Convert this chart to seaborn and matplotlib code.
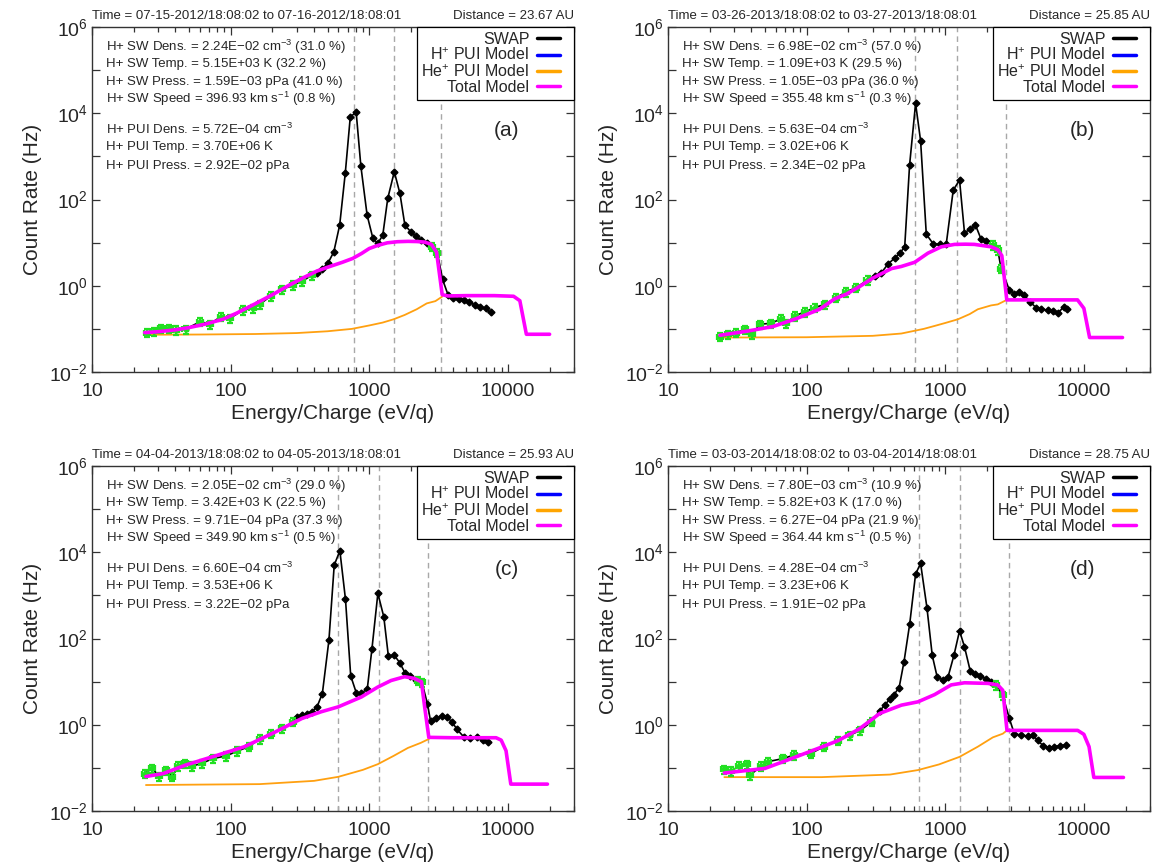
import matplotlib
matplotlib.use("Agg")
import numpy as np
import pandas as pd
import matplotlib.pyplot as plt
from matplotlib.lines import Line2D
from matplotlib.legend_handler import HandlerLine2D
from matplotlib.ticker import FixedLocator, FuncFormatter, NullLocator, LogLocator, NullFormatter
import seaborn as sns

# ---------------- Panel (a) ----------------
a_time = "Time = 07-15-2012/18:08:02 to 07-16-2012/18:08:01"
a_dist = "Distance = 23.67 AU"
a_sw = ["2.24E−02", "31.0", "5.15E+03", "32.2", "1.59E−03", "41.0", "396.93", "0.8"]
a_pui = ["5.72E−04", "3.70E+06", "2.92E−02"]
a_vlines = [770, 1510, 3320]
a_fit_E = [24.8, 28.0, 31.7, 35.9, 40.6, 47.3, 60.5, 70.6, 85, 99, 123, 144, 162, 195, 235, 282, 330, 385, 2850, 3100]
a_fit_C = [0.082, 0.087, 0.103, 0.103, 0.094, 0.098, 0.148, 0.128, 0.193, 0.176, 0.274, 0.30, 0.37, 0.58, 0.83, 1.03, 1.29, 1.75, 8.0, 5.8]
a_blk_E = [420, 460, 505, 555, 612, 672, 730, 805, 870, 965, 1063, 1153, 1252, 1360, 1516, 1665, 1807, 1995, 2166, 2352, 2594,
           3380, 3700, 4050, 4420, 4830, 5280, 5770, 6300, 6900, 7500]
a_blk_C = [2.0, 2.5, 3.4, 6.1, 25.5, 417, 8300, 10500, 596, 43.6, 12.5, 9.6, 14.9, 106, 440, 138, 25.5, 17.8, 14.1, 11.5, 10.0,
           1.4, 0.62, 0.52, 0.50, 0.47, 0.42, 0.36, 0.32, 0.30, 0.24]
a_tot_E = [24, 30, 40, 50, 65, 88, 110, 150, 200, 260, 330, 420, 520, 640, 760, 880, 1000, 1150, 1350, 1600, 1900, 2200, 2500,
           2800, 3060, 3360, 3700, 5000, 8000, 11000, 12200, 13600, 20000]
a_tot_C = [0.082, 0.086, 0.095, 0.107, 0.128, 0.167, 0.23, 0.38, 0.62, 1.0, 1.5, 2.2, 2.8, 3.5, 4.3, 5.6, 7.3, 8.6, 9.9, 10.5,
           10.7, 10.6, 10.3, 9.2, 6.0, 0.62, 0.58, 0.59, 0.59, 0.57, 0.45, 0.075, 0.075]
a_he_E = [24, 60, 150, 300, 500, 750, 1000, 1250, 1500, 1800, 2200, 2600, 3000, 3360]
a_he_C = [0.073, 0.074, 0.076, 0.08, 0.088, 0.1, 0.12, 0.14, 0.167, 0.21, 0.285, 0.39, 0.44, 0.56]

# ---------------- Panel (b) ----------------
b_time = "Time = 03-26-2013/18:08:02 to 03-27-2013/18:08:01"
b_dist = "Distance = 25.85 AU"
b_sw = ["6.98E−02", "57.0", "1.09E+03", "29.5", "1.05E−03", "36.0", "355.48", "0.3"]
b_pui = ["5.63E−04", "3.02E+06", "2.34E−02"]
b_vlines = [610, 1220, 2750]
b_fit_E = [23.7, 27.2, 31.2, 35.8, 40.6, 45.9, 55.6, 65.7, 71.5, 82.1, 96.7, 114, 135, 163, 193, 228, 275, 2207, 2394, 2530]
b_fit_C = [0.066, 0.075, 0.082, 0.098, 0.075, 0.128, 0.135, 0.173, 0.135, 0.2, 0.247, 0.31, 0.37, 0.53, 0.72, 0.91, 1.35,
           8.8, 6.7, 2.5]
b_blk_E = [310, 346, 387, 432, 469, 510, 553, 611, 664, 730, 816, 910, 1016, 1142, 1268, 1377, 1514, 1653, 1816, 1972,
           2904, 3150, 3420, 3720, 4100, 4520, 4900, 5480, 5950, 6520, 7200, 7600]
b_blk_C = [1.7, 2.0, 3.2, 4.4, 5.6, 8.0, 628, 16900, 2300, 15.7, 9.5, 9.1, 9.1, 165, 282, 16.9, 20.6, 25.5, 11.9, 11.0,
           0.79, 0.66, 0.72, 0.60, 0.42, 0.31, 0.29, 0.27, 0.26, 0.235, 0.33, 0.29]
b_tot_E = [23.7, 37.5, 57, 84.5, 124, 160, 193, 240, 300, 409, 482, 602, 750, 936, 1167, 1400, 1625, 2140, 2400, 2560,
           2780, 5000, 9000, 10000, 11000, 19000]
b_tot_C = [0.071, 0.089, 0.113, 0.173, 0.285, 0.5, 0.635, 0.95, 1.5, 2.5, 2.8, 3.5, 5.7, 8.0, 9.1, 9.2, 9.1, 8.0, 6.8, 5.0,
           0.47, 0.47, 0.47, 0.30, 0.063, 0.063]
b_he_E = [23.7, 100, 300, 482, 700, 838, 1000, 1235, 1500, 1718, 2140, 2394, 2780]
b_he_C = [0.063, 0.064, 0.069, 0.078, 0.1, 0.117, 0.137, 0.167, 0.22, 0.285, 0.35, 0.37, 0.47]

# ---------------- Panel (c) ----------------
c_time = "Time = 04-04-2013/18:08:02 to 04-05-2013/18:08:01"
c_dist = "Distance = 25.93 AU"
c_sw = ["2.05E−02", "29.0", "3.42E+03", "22.5", "9.71E−04", "37.3", "349.90", "0.5"]
c_pui = ["6.60E−04", "3.53E+06", "3.22E−02"]
c_vlines = [600, 1180, 2640]
c_fit_E = [24, 27.2, 30.5, 34, 38, 42, 47, 53, 62, 75, 93, 112, 135, 162, 195, 235, 283, 2250, 2400]
c_fit_C = [0.074, 0.097, 0.064, 0.088, 0.063, 0.11, 0.128, 0.11, 0.128, 0.165, 0.19, 0.245, 0.31, 0.47, 0.62, 0.82, 1.17,
           10.5, 9.6]
c_blk_E = [300, 327, 355, 385, 420, 459, 512, 559, 614, 674, 735, 808, 877, 968, 1045, 1154, 1273, 1374, 1516, 1665, 1807,
           1975, 2166, 2626, 2771, 3010, 3360, 3650, 3960, 4300, 4790, 5340, 5950, 6640, 7200]
c_blk_C = [1.5, 1.65, 1.8, 2.0, 2.6, 5.3, 92, 5050, 10800, 807, 13.6, 5.4, 5.4, 6.8, 56, 1110, 320, 39, 41, 27, 16.2,
           13.6, 11.1, 3.1, 1.2, 1.4, 1.6, 1.5, 1.15, 0.78, 0.53, 0.50, 0.51, 0.44, 0.39]
c_tot_E = [24.5, 32.7, 47.3, 77.6, 126, 208, 327, 450, 598, 877, 1154, 1436, 1800, 2107, 2380, 2510, 2690, 4000, 8220,
           8950, 9700, 10500, 19300]
c_tot_C = [0.063, 0.074, 0.116, 0.19, 0.31, 0.67, 1.4, 2.0, 2.6, 4.4, 7.5, 10.6, 13.0, 11.9, 9.9, 2.6, 0.51, 0.50, 0.50,
           0.44, 0.25, 0.042, 0.042]
c_he_E = [24.5, 162, 400, 598, 900, 1154, 1500, 1900, 2352, 2626, 2720]
c_he_C = [0.040, 0.042, 0.05, 0.062, 0.09, 0.122, 0.19, 0.29, 0.38, 0.45, 0.48]

# ---------------- Panel (d) ----------------
d_time = "Time = 03-03-2014/18:08:02 to 03-04-2014/18:08:01"
d_dist = "Distance = 28.75 AU"
d_sw = ["7.80E−03", "10.9", "5.82E+03", "17.0", "6.27E−04", "21.9", "364.44", "0.5"]
d_pui = ["4.28E−04", "3.23E+06", "1.91E−02"]
d_vlines = [652, 1280, 2866]
d_fit_E = [25.5, 28.5, 32.6, 36.9, 39.1, 47, 53, 68, 81.5, 107, 133, 169, 204, 244, 294, 2325, 2600]
d_fit_C = [0.092, 0.085, 0.11, 0.12, 0.068, 0.11, 0.14, 0.165, 0.2, 0.215, 0.31, 0.43, 0.57, 0.74, 1.17, 8.4, 4.8]
d_blk_E = [337, 366, 397, 427, 465, 504, 554, 611, 664, 738, 806, 876, 962, 1045, 1155, 1268, 1377, 1514, 1643, 1794,
           1972, 2140, 2900, 3150, 3520, 3930, 4280, 4650, 5050, 5620, 6110, 6750, 7420]
d_blk_C = [2.1, 2.85, 3.9, 5.0, 7.3, 28.8, 216, 3120, 5520, 515, 40.5, 12.5, 11.2, 12.5, 40.5, 151, 64, 17.8, 15.0, 13.2,
           11.8, 10.0, 1.4, 0.62, 0.57, 0.55, 0.57, 0.44, 0.33, 0.295, 0.31, 0.33, 0.34]
d_tot_E = [25.5, 50, 78, 120, 169, 240, 337, 483, 636, 838, 1104, 1377, 2030, 2390, 2600, 2790, 5000, 9020, 10000, 10900,
           11800, 19300]
d_tot_C = [0.076, 0.097, 0.165, 0.28, 0.43, 0.8, 1.83, 2.85, 3.4, 5.0, 8.4, 9.4, 9.1, 8.4, 6.3, 0.74, 0.74, 0.74, 0.6,
           0.31, 0.06, 0.06]
d_he_E = [25.5, 128, 400, 636, 900, 1268, 1718, 2205, 2600, 2790]
d_he_C = [0.061, 0.061, 0.07, 0.089, 0.12, 0.18, 0.31, 0.51, 0.62, 0.74]

legend_labels = ["SWAP", "H$^{+}$ PUI Model", "He$^{+}$ PUI Model", "Total Model"]
x_tick_vals = [10, 100, 1000, 10000]
x_tick_labels = ["10", "100", "1000", "10000"]

panels = [
    ("(a)", a_time, a_dist, a_sw, a_pui, a_vlines, a_fit_E, a_fit_C, a_blk_E, a_blk_C, a_tot_E, a_tot_C, a_he_E, a_he_C),
    ("(b)", b_time, b_dist, b_sw, b_pui, b_vlines, b_fit_E, b_fit_C, b_blk_E, b_blk_C, b_tot_E, b_tot_C, b_he_E, b_he_C),
    ("(c)", c_time, c_dist, c_sw, c_pui, c_vlines, c_fit_E, c_fit_C, c_blk_E, c_blk_C, c_tot_E, c_tot_C, c_he_E, c_he_C),
    ("(d)", d_time, d_dist, d_sw, d_pui, d_vlines, d_fit_E, d_fit_C, d_blk_E, d_blk_C, d_tot_E, d_tot_C, d_he_E, d_he_C),
]


class ShortLineHandler(HandlerLine2D):
    """Legend line drawn over the left part of the handle box (leaves a right margin)."""
    def get_xdata(self, legend, xdescent, ydescent, width, height, fontsize):
        x0 = -xdescent
        xd = np.array([x0, x0 + width * 0.7])
        return xd, xd


sns.set_theme(style="ticks")
plt.rcParams['font.family'] = ['Liberation Sans', 'DejaVu Sans']
plt.rcParams['mathtext.fontset'] = 'custom'
plt.rcParams['mathtext.rm'] = 'Liberation Sans'
plt.rcParams['mathtext.it'] = 'Liberation Sans:italic'
plt.rcParams['mathtext.bf'] = 'Liberation Sans:bold'
plt.rcParams['axes.unicode_minus'] = True

fig = plt.figure(figsize=(11.53, 8.67), dpi=100)
W, H = 1153.0, 867.0
boxes = [(92, 27), (668, 27), (92, 466), (668, 466)]
AW, AH = 482.0, 345.0

MAGENTA = "#ff00ff"
ORANGE = "#ffa010"
GREEN = "#22e022"

for (lab, ttime, tdist, sw, pui, vl, fE, fC, bE, bC, tE, tC, hE, hC), (x0, y0) in zip(panels, boxes):
    ax = fig.add_axes([x0 / W, 1 - (y0 + AH) / H, AW / W, AH / H])
    ax.set_xscale('log')
    ax.set_yscale('log')
    ax.set_xlim(10, 3e4)
    ax.set_ylim(1e-2, 1e6)

    for v in vl:
        ax.axvline(v, color="#a8a8a8", ls=(0, (4, 3)), lw=1.0, zorder=1)

    # He+ PUI model
    he_df = pd.DataFrame({"E": hE, "C": hC})
    sns.lineplot(data=he_df, x="E", y="C", ax=ax, color=ORANGE, lw=1.3, sort=False, estimator=None, zorder=2)

    # SWAP data connecting line
    all_df = pd.DataFrame({"E": list(bE) + list(fE), "C": list(bC) + list(fC)}).sort_values("E")
    sns.lineplot(data=all_df, x="E", y="C", ax=ax, color="black", lw=1.2, sort=True, estimator=None, zorder=3)

    bE_a, bC_a = np.array(bE, float), np.array(bC, float)
    ax.errorbar(bE_a, bC_a, xerr=bE_a * 0.05, yerr=bC_a * 0.12, fmt='D', ms=3.5, color='black',
                ecolor='black', elinewidth=1.0, capsize=0, zorder=4)
    fE_a, fC_a = np.array(fE, float), np.array(fC, float)
    ax.errorbar(fE_a, fC_a, xerr=fE_a * 0.05, yerr=fC_a * 0.22, fmt='o', ms=3.5, color=GREEN,
                ecolor=GREEN, elinewidth=1.6, capsize=2.5, capthick=1.6, zorder=5)

    tot_df = pd.DataFrame({"E": tE, "C": tC})
    sns.lineplot(data=tot_df, x="E", y="C", ax=ax, color=MAGENTA, lw=2.6, sort=False, estimator=None, zorder=6)

    ax.set_xlabel("Energy/Charge (eV/q)", fontsize=15, labelpad=3)
    ax.set_ylabel("Count Rate (Hz)", fontsize=15, labelpad=5)

    ax.xaxis.set_major_locator(FixedLocator(x_tick_vals))
    ax.set_xticklabels(x_tick_labels)
    ax.xaxis.set_minor_locator(LogLocator(base=10, subs=np.arange(2, 10)))
    ax.xaxis.set_minor_formatter(NullFormatter())
    ax.yaxis.set_major_locator(FixedLocator([10.0 ** k for k in range(-2, 7)]))
    ax.yaxis.set_major_formatter(FuncFormatter(
        lambda v, p: (r"$10^{%d}$" % int(round(np.log10(v)))) if int(round(np.log10(v))) % 2 == 0 else ""))
    ax.yaxis.set_minor_locator(NullLocator())

    ax.tick_params(which='both', direction='in', top=True, right=True, color='#333333', width=0.9)
    ax.tick_params(axis='x', which='major', length=6, pad=8, labelsize=14)
    ax.tick_params(axis='x', which='minor', length=3.5)
    ax.tick_params(axis='y', which='major', length=6, pad=3, labelsize=14)
    for s in ax.spines.values():
        s.set_color('#333333')
        s.set_linewidth(1.0)

    ax.text(0.0, 1.032, ttime, transform=ax.transAxes, ha='left', va='center', fontsize=9.5)
    ax.text(1.0, 1.032, tdist, transform=ax.transAxes, ha='right', va='center', fontsize=9.5)

    lines = [
        f"H+ SW Dens. = {sw[0]} cm$^{{-3}}$ ({sw[1]} %)",
        f"H+ SW Temp. = {sw[2]} K ({sw[3]} %)",
        f"H+ SW Press. = {sw[4]} pPa ({sw[5]} %)",
        f"H+ SW Speed = {sw[6]} km s$^{{-1}}$ ({sw[7]} %)",
    ]
    for yy, t in zip([0.942, 0.892, 0.841, 0.791], lines):
        ax.text(0.029, yy, t, transform=ax.transAxes, ha='left', va='center', fontsize=9.5)
    plines = [
        f"H+ PUI Dens. = {pui[0]} cm$^{{-3}}$",
        f"H+ PUI Temp. = {pui[1]} K",
        f"H+ PUI Press. = {pui[2]} pPa",
    ]
    for yy, t in zip([0.704, 0.651, 0.598], plines):
        ax.text(0.029, yy, t, transform=ax.transAxes, ha='left', va='center', fontsize=9.5)

    ax.text(0.86, 0.70, lab, transform=ax.transAxes, ha='center', va='center', fontsize=15)

    handles = [Line2D([], [], color='black', lw=2.5), Line2D([], [], color='blue', lw=2.5),
               Line2D([], [], color='orange', lw=2.5), Line2D([], [], color=MAGENTA, lw=2.5)]
    leg = ax.legend(handles, legend_labels, loc='upper right', bbox_to_anchor=(1, 1), borderaxespad=0,
                    markerfirst=False, frameon=True, fancybox=False, edgecolor='black', framealpha=1,
                    fontsize=11.5, handlelength=2.0, handletextpad=0.5, labelspacing=0.0, borderpad=0.3,
                    handler_map={Line2D: ShortLineHandler()})
    leg.get_frame().set_linewidth(0.9)
    leg.set_zorder(10)

fig.savefig("out.png", dpi=100)
